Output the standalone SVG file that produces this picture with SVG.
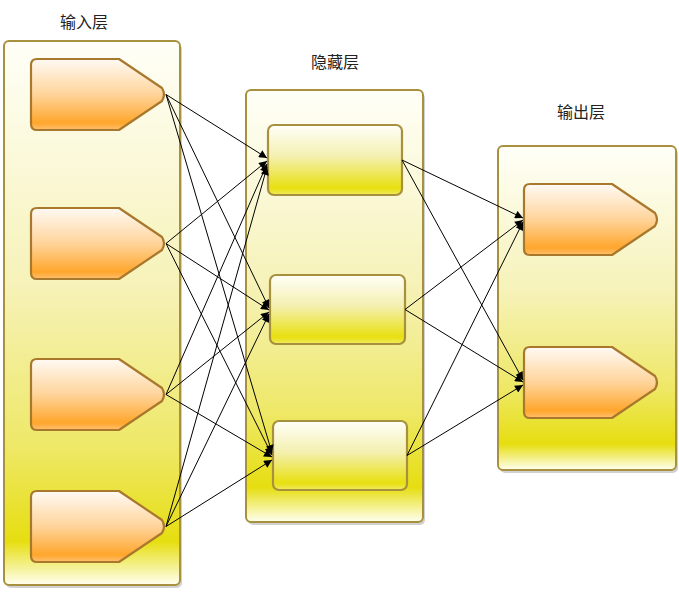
<svg xmlns="http://www.w3.org/2000/svg" width="679" height="593" viewBox="0 0 679 593">
<style>
.lbl{font-family:"Noto Sans CJK SC","Noto Sans",sans-serif;font-size:16px;fill:#222;text-anchor:middle}
.cont{fill:url(#gCont);stroke:#a8913e;stroke-width:2}
.shadow{fill:#000;opacity:0.18}
.onode{fill:url(#gOrange);stroke:#a8782c;stroke-width:2.2;stroke-linejoin:round}
.hnode{fill:url(#gYellow);stroke:#a8913e;stroke-width:2.2}
.conn line{stroke:#000;stroke-width:1;marker-end:url(#arr)}
</style>
<defs>
<linearGradient id="gCont" x1="0" y1="0" x2="0" y2="1">
<stop offset="0" stop-color="#fffff8"/>
<stop offset="0.45" stop-color="#f6f2b8"/>
<stop offset="0.75" stop-color="#eee866"/>
<stop offset="0.92" stop-color="#e6de10"/>
<stop offset="1" stop-color="#fffff0"/>
</linearGradient>
<linearGradient id="gOrange" x1="0" y1="0" x2="0" y2="1">
<stop offset="0" stop-color="#fffaf4"/>
<stop offset="0.5" stop-color="#ffd49a"/>
<stop offset="0.9" stop-color="#ffa62c"/>
<stop offset="1" stop-color="#ffc070"/>
</linearGradient>
<linearGradient id="gYellow" x1="0" y1="0" x2="0" y2="1">
<stop offset="0" stop-color="#fffff8"/>
<stop offset="0.45" stop-color="#f4f0b0"/>
<stop offset="0.9" stop-color="#e8e010"/>
<stop offset="1" stop-color="#f0ea60"/>
</linearGradient>
<path id="pent" d="M6,0 H88 L131,29 Q135,35.5 131,42 L88,71 H6 Q0,71 0,65 V6 Q0,0 6,0 Z"/>
<marker id="arr" viewBox="0 0 10 10" refX="10" refY="5" markerWidth="10" markerHeight="8" markerUnits="userSpaceOnUse" orient="auto">
<path d="M0,0 L10,5 L0,10 Z" fill="#000"/>
</marker>
</defs>

<g id="layer-input">
<rect class="shadow" x="6" y="44" width="176" height="544" rx="5"/>
<rect class="cont" x="4" y="41" width="176" height="544" rx="5"/>
<text class="lbl" x="84" y="28">输入层</text>
</g>
<g id="layer-hidden">
<rect class="shadow" x="248" y="93" width="177" height="432" rx="5"/>
<rect class="cont" x="246" y="90" width="177" height="432" rx="5"/>
<text class="lbl" x="335" y="68">隐藏层</text>
</g>
<g id="layer-output">
<rect class="shadow" x="500" y="149" width="178" height="324" rx="5"/>
<rect class="cont" x="498" y="146" width="178" height="324" rx="5"/>
<text class="lbl" x="581" y="118">输出层</text>
</g>

<g id="in1"><use href="#pent" class="onode" transform="translate(31,59)"/></g>
<g id="in2"><use href="#pent" class="onode" transform="translate(31,208)"/></g>
<g id="in3"><use href="#pent" class="onode" transform="translate(31,359)"/></g>
<g id="in4"><use href="#pent" class="onode" transform="translate(31,491)"/></g>

<g id="h1"><rect class="hnode" x="268" y="125" width="134" height="70" rx="6"/></g>
<g id="h2"><rect class="hnode" x="270" y="275" width="135" height="69" rx="6"/></g>
<g id="h3"><rect class="hnode" x="273" y="421" width="134" height="69" rx="6"/></g>

<g id="out1"><use href="#pent" class="onode" transform="translate(524,184)"/></g>
<g id="out2"><use href="#pent" class="onode" transform="translate(524,347)"/></g>

<g id="connectors" class="conn">
<line x1="166" y1="94.5" x2="267" y2="158"/>
<line x1="166" y1="94.5" x2="269" y2="308"/>
<line x1="166" y1="94.5" x2="272" y2="453"/>
<line x1="166" y1="243.5" x2="267" y2="161"/>
<line x1="166" y1="243.5" x2="269" y2="310"/>
<line x1="166" y1="243.5" x2="272" y2="455"/>
<line x1="166" y1="394.5" x2="267" y2="164"/>
<line x1="166" y1="394.5" x2="269" y2="312"/>
<line x1="166" y1="394.5" x2="272" y2="457"/>
<line x1="166" y1="526.5" x2="267" y2="167"/>
<line x1="166" y1="526.5" x2="269" y2="314"/>
<line x1="166" y1="526.5" x2="272" y2="460"/>
<line x1="402" y1="160" x2="523" y2="218"/>
<line x1="402" y1="160" x2="523" y2="380"/>
<line x1="405" y1="309.5" x2="523" y2="220"/>
<line x1="405" y1="309.5" x2="523" y2="382"/>
<line x1="407" y1="455.5" x2="523" y2="222"/>
<line x1="407" y1="455.5" x2="523" y2="385"/>
</g>
</svg>
